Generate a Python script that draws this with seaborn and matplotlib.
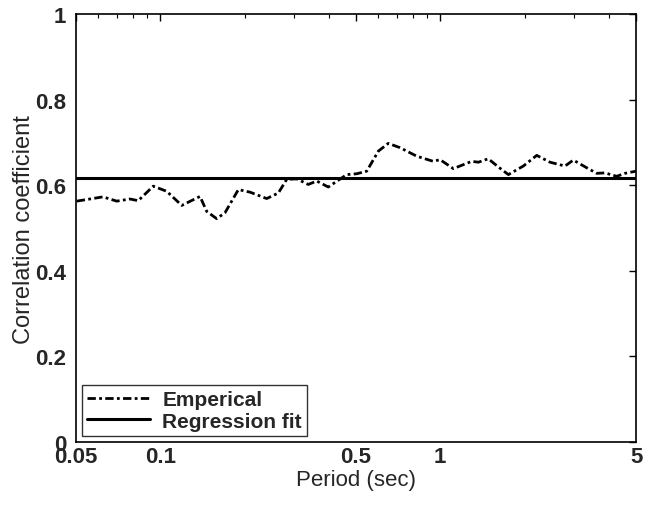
import matplotlib
matplotlib.use("Agg")
import matplotlib.pyplot as plt
import matplotlib.ticker as mticker
import seaborn as sns
import pandas as pd

period = [0.0503, 0.0624, 0.0699, 0.0780, 0.0834, 0.0944, 0.1054, 0.1193, 0.1386,
          0.1465, 0.1590, 0.1703, 0.1900, 0.2091, 0.2399, 0.2640, 0.2828, 0.3071,
          0.3377, 0.3619, 0.3981, 0.4324, 0.4633, 0.503, 0.546, 0.601, 0.652, 0.718,
          0.824, 0.944, 0.998, 1.113, 1.295, 1.368, 1.484, 1.611, 1.750, 1.979,
          2.210, 2.465, 2.789, 2.986, 3.333, 3.619, 3.875, 4.266, 4.567, 5.0]
empirical = [0.563, 0.573, 0.563, 0.568, 0.564, 0.598, 0.586, 0.553, 0.574,
             0.539, 0.522, 0.536, 0.590, 0.584, 0.569, 0.582, 0.614, 0.615,
             0.602, 0.610, 0.596, 0.612, 0.625, 0.627, 0.633, 0.680, 0.698, 0.688,
             0.668, 0.656, 0.660, 0.639, 0.656, 0.654, 0.662, 0.643, 0.625, 0.645,
             0.670, 0.654, 0.645, 0.659, 0.641, 0.628, 0.629, 0.621, 0.628, 0.633]
fit_period = [0.05, 5.0]
fit_value = [0.617, 0.617]

xticks = [0.05, 0.1, 0.5, 1, 5]
xtick_labels = ["0.05", "0.1", "0.5", "1", "5"]
yticks = [0, 0.2, 0.4, 0.6, 0.8, 1]
ytick_labels = ["0", "0.2", "0.4", "0.6", "0.8", "1"]

sns.set_theme(style="white")
plt.rcParams['font.family'] = ['Liberation Sans', 'DejaVu Sans']

fig = plt.figure(figsize=(6.53, 5.06), dpi=100)
ax = fig.add_axes([0.1164, 0.1245, 0.8576, 0.8455])

df_emp = pd.DataFrame({"Period": period, "Correlation": empirical})
df_fit = pd.DataFrame({"Period": fit_period, "Correlation": fit_value})

sns.lineplot(data=df_emp, x="Period", y="Correlation", ax=ax, color="black",
             linewidth=2.0, linestyle=(0, (3, 1.2, 1, 1.2)), label="Emperical")
sns.lineplot(data=df_fit, x="Period", y="Correlation", ax=ax, color="black",
             linewidth=2.2, label="Regression fit")

ax.set_xscale("log")
ax.set_xlim(0.05, 5)
ax.set_ylim(0, 1)
ax.set_xticks(xticks)
ax.set_xticklabels(xtick_labels)
ax.xaxis.set_minor_locator(mticker.LogLocator(base=10, subs=range(2, 10)))
ax.xaxis.set_minor_formatter(mticker.NullFormatter())
ax.set_yticks(yticks)
ax.set_yticklabels(ytick_labels)

for lab in ax.get_xticklabels() + ax.get_yticklabels():
    lab.set_fontweight("bold")
    lab.set_fontsize(16)

ax.tick_params(which="both", direction="in", top=True, right=True, color="black")
ax.tick_params(axis="x", which="major", length=5, width=1, pad=3)
ax.tick_params(axis="y", which="major", length=5, width=1, pad=7)
ax.tick_params(which="minor", length=3, width=0.8)

for s in ax.spines.values():
    s.set_color("black")
    s.set_linewidth(1.2)

ax.set_xlabel("Period (sec)", fontsize=16, labelpad=1)
ax.set_ylabel("Correlation coefficient", fontsize=17, labelpad=0)

leg = ax.legend(loc="lower left", prop={"size": 15, "weight": "bold"}, frameon=True,
                fancybox=False, edgecolor="black", handlelength=3.0,
                borderaxespad=0.3, borderpad=0.25, labelspacing=0.1,
                handletextpad=0.6)
leg.get_frame().set_linewidth(1.0)

fig.savefig("out.png", dpi=100)
